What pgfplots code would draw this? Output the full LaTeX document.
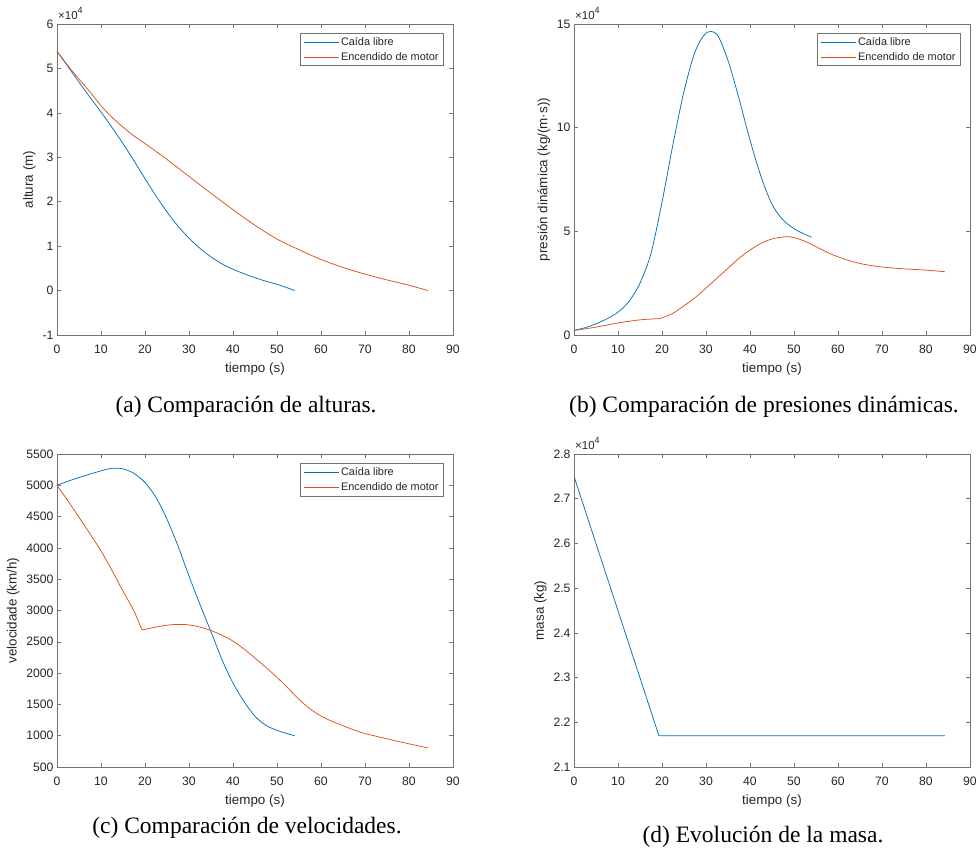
\documentclass[border=0pt]{standalone}
\usepackage{pgfplots}
\pgfplotsset{compat=1.18}
\usepackage{fontspec}
\setmainfont{Liberation Sans}
\newfontfamily\capfont{Liberation Serif}
\definecolor{mblue}{rgb}{0,0.447,0.741}
\definecolor{morange}{rgb}{0.85,0.325,0.098}
\definecolor{mtext}{rgb}{0.15,0.15,0.15}
\definecolor{maxis}{rgb}{0.45,0.45,0.45}
\pgfplotsset{
  mstyle/.style={
    scale only axis,
    width=396pt,
    xmin=0,xmax=90,
    xtick={0,10,...,90},
    axis line style={maxis, line width=0.6pt},
    every tick/.style={maxis, line width=0.6pt},
    major tick length=4pt,
    tick label style={font=\fontsize{12.2}{14}\selectfont, text=mtext},
    xticklabel style={yshift=-6pt},
    label style={font=\fontsize{13.4}{16}\selectfont, text=mtext},
    xlabel style={yshift=-3pt},
    /pgf/number format/assume math mode=true,
    /pgf/number format/1000 sep={},
    scaled y ticks=false,
    xlabel={tiempo (s)},
    legend style={at={(rel axis cs:0.977,0.971)}, anchor=north east, draw=maxis, line width=0.6pt,
      font=\fontsize{10.9}{13}\selectfont, text=mtext, inner xsep=3pt, inner ysep=2pt, row sep=1.5pt,
      cells={anchor=west}},
    legend image code/.code={\draw[#1] (0pt,0pt) -- (35pt,0pt);},
    every axis plot/.append style={line width=0.75pt},
  },
}
\newcommand{\sclabel}[2]{\node[anchor=south west, inner sep=0pt, text=mtext, font=\fontsize{11.5}{13}\selectfont] at (#1,#2) {×10\raisebox{0.5em}{\fontsize{9}{10}\selectfont 4}};}
\begin{document}
\begin{tikzpicture}[x=1pt,y=1pt]
\useasboundingbox (0,0) rectangle (978,852);

% (a)
\begin{axis}[mstyle, at={(57pt,517pt)}, anchor=south west, height=311pt,
  ymin=-10000, ymax=60000, ytick={-10000,0,10000,20000,30000,40000,50000,60000},
  yticklabels={-1,0,1,2,3,4,5,6}, ylabel={altura (m)}]
\addplot[draw=mblue, smooth] coordinates {
(0,53900) (2.5,50400) (5,46900) (7.5,43500) (10,40200) (12.5,36700) (15,33100)
(17.5,29200) (20,25200) (22.5,21300) (25,17700) (27.5,14500) (30,11800) (32.5,9500)
(35,7600) (37.5,6000) (40,4800) (42.5,3800) (45,2900) (47.5,2100) (50,1400) (52,750) (54,0)};
\addlegendentry{Caída libre}
\addplot[draw=morange, smooth] coordinates {
(0,53900) (2.5,50600) (5,47600) (7.5,44700) (10,41600) (12.5,39000) (15,36800) (17.5,34800)
(20,33100) (25,29500) (30,25700) (35,21900) (40,18200) (45,14700) (50,11600) (55,9200)
(60,7000) (65,5200) (70,3700) (75,2400) (80,1200) (84.3,0)};
\addlegendentry{Encendido de motor}
\end{axis}

% (b)
\begin{axis}[mstyle, at={(574pt,517pt)}, anchor=south west, height=311pt,
  ymin=0, ymax=150000, ytick={0,50000,100000,150000},
  yticklabels={0,5,10,15}, ylabel={presión dinámica (kg/(m·s))}]
\addplot[draw=mblue, smooth] coordinates {
(0,2200) (2.5,3500) (5,5400) (7.5,7800) (10,11000) (12.5,16200) (15,25000) (17.5,39400)
(20,64000) (22.5,92000) (25,117500) (27.5,136500) (30,145600) (32.5,144900)
(35,132400) (37.5,114000) (40,94000) (42.5,76500) (45,63000) (47.5,55500) (50,51300)
(52,49000) (54,47200)};
\addlegendentry{Caída libre}
\addplot[draw=morange, smooth] coordinates {
(0,2200) (5,3800) (10,5800) (15,7300) (19.3,7900)};
\addlegendentry{Encendido de motor}
\addplot[draw=morange, smooth, forget plot] coordinates {
(19.3,7900) (20,8300) (22.5,10500) (25,14100)
(27.5,18000) (30,22600) (32.5,27400) (35,32200) (37.5,37000) (40,41000) (42.5,44200)
(45,46300) (48,47400) (50,47000) (52.5,45200) (55,42600) (57.5,39900) (60,37700)
(62.5,35900) (65,34500) (67.5,33500) (70,32800) (75,31900) (80,31300) (84.3,30500)};
\end{axis}

% (c)
\begin{axis}[mstyle, at={(57pt,85pt)}, anchor=south west, height=313pt,
  ymin=500, ymax=5500, ytick={500,1000,...,5500},
  ylabel={velocidade (km/h)}]
\addplot[draw=mblue, smooth] coordinates {
(0,5000) (2.5,5065) (5,5125) (7.5,5180) (10,5230) (12.5,5272) (15,5262) (17.5,5190)
(20,5045) (22.5,4806) (25,4458) (27.5,4031) (30,3550) (32.5,3096) (35,2660) (37.5,2215)
(40,1841) (42.5,1547) (45,1310) (47.5,1165) (50,1085) (52,1040) (54,1000)};
\addlegendentry{Caída libre}
\addplot[draw=morange, smooth] coordinates {
(0,5000) (2.5,4750) (5,4490) (7.5,4225) (10,3951) (12.5,3640) (15,3310) (17.5,2990)
(19.3,2690)};
\addlegendentry{Encendido de motor}
\addplot[draw=morange, smooth, forget plot] coordinates {
(19.3,2690) (20,2700) (22.5,2735) (25,2765) (27.5,2778) (30,2770) (32.5,2735) (35,2680)
(37.5,2605) (40,2510) (42.5,2385) (45,2240) (47.5,2090) (50,1932) (52.5,1760) (55,1580)
(57.5,1430) (60,1315) (62.5,1230) (65,1160) (67.5,1092) (70,1035) (75,950) (80,870) (84.3,805)};
\end{axis}

% (d)
\begin{axis}[mstyle, at={(574pt,85pt)}, anchor=south west, height=313pt,
  ymin=21000, ymax=28000, ytick={21000,22000,23000,24000,25000,26000,27000,28000},
  yticklabels={2.1,2.2,2.3,2.4,2.5,2.6,2.7,2.8}, ylabel={masa (kg)}]
\addplot[draw=mblue] coordinates {(0,27500) (19.3,21700) (84.3,21700)};
\end{axis}

\sclabel{58}{832}
\sclabel{575}{832}
\sclabel{575}{402}

\begin{scope}[every node/.style={font=\capfont\fontsize{23.5}{28}\selectfont, text=black, inner sep=0pt}]
\node at (246,445) {(a) Comparación de alturas.};
\node at (764,445) {(b) Comparación de presiones dinámicas.};
\node at (247,24) {(c) Comparación de velocidades.};
\node at (763,15) {(d) Evolución de la masa.};
\end{scope}
\end{tikzpicture}
\end{document}
